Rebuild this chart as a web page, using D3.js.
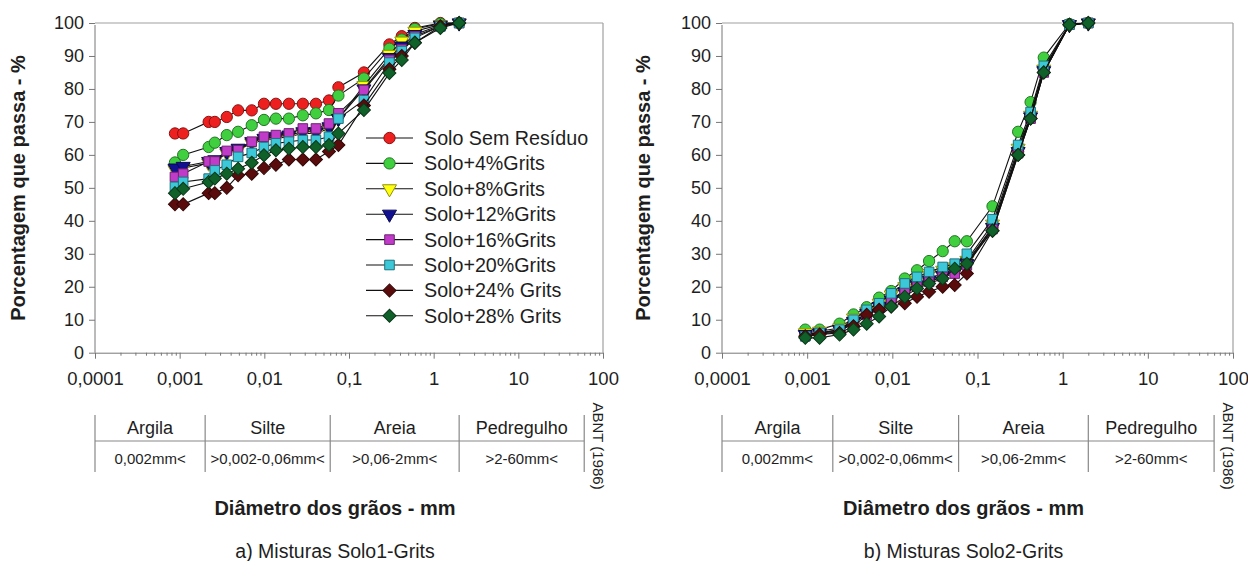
<!DOCTYPE html>
<html>
<head>
<meta charset="utf-8">
<script src="https://cdn.jsdelivr.net/npm/d3@7"></script>
<style>
  body { margin: 0; background: #fff; }
  svg { display: block; font-family: "Liberation Sans", Arial, sans-serif; }
</style>
</head>
<body>
<svg id="chart" width="1248" height="561"></svg>
<script>
// grain diameters (mm) - hydrometer readings then sieves
const diamSolo1 = [0.00088, 0.0011, 0.0022, 0.0026, 0.0036, 0.0049, 0.0071, 0.0099, 0.0137, 0.0195, 0.0285, 0.0407, 0.058,
                   0.075, 0.15, 0.3, 0.42, 0.6, 1.2, 2.0];
const diamSolo2 = [0.00095, 0.0014, 0.0024, 0.0035, 0.005, 0.007, 0.0097, 0.014, 0.0195, 0.027, 0.039, 0.054,
                   0.075, 0.15, 0.3, 0.42, 0.6, 1.2, 2.0];

const seriesNames = ['Solo Sem Resíduo', 'Solo+4%Grits', 'Solo+8%Grits', 'Solo+12%Grits',
                     'Solo+16%Grits', 'Solo+20%Grits', 'Solo+24% Grits', 'Solo+28% Grits'];

// % passing, Solo1 mixes
const solo1Sem = [66.5, 66.5, 70, 70, 71.5, 73.5, 73.5, 75.5, 75.5, 75.5, 75.5, 75.5, 76.5, 80.5, 85, 93.5, 96, 98.5, 100, 100];
const solo1G4  = [57.7, 60, 62.4, 63.7, 66, 67, 69, 70.6, 71, 71, 72, 72.6, 73.6, 78, 83.2, 92.2, 95, 98.2, 99.8, 100];
const solo1G8  = [55.5, 56, 57.5, 58, 60.5, 61.5, 63.5, 64.5, 65, 65.5, 66.5, 66.5, 68, 71, 81, 90.5, 94.5, 97.5, 99.5, 100];
const solo1G12 = [56, 56.5, 58, 58.5, 61, 62, 64, 65, 65.5, 66, 67, 67, 68.5, 71, 80, 89.5, 93, 96.5, 99.3, 100];
const solo1G16 = [53.3, 54.3, 58, 58, 61.2, 61.4, 64, 65.5, 66, 66.5, 68, 68, 69.5, 72.6, 79.7, 88.8, 92, 96, 99, 100];
const solo1G20 = [50.3, 51.8, 52.8, 55.3, 57, 59.4, 60.6, 62.4, 63.5, 64, 64.5, 64.5, 65.5, 71, 76.6, 88, 91.5, 95.5, 99, 100];
const solo1G24 = [45, 45, 48.4, 48.4, 50, 53.8, 54.3, 56, 57, 58.6, 58.6, 58.6, 61, 63, 75, 86, 90, 94, 99, 100];
const solo1G28 = [48.4, 49.7, 51.8, 52.8, 54.3, 55.8, 57.6, 59.9, 61.4, 61.9, 62.4, 62.4, 63, 66.5, 73.6, 84.8, 88.8, 94, 98.5, 100];

// % passing, Solo2 mixes
const solo2Sem = [5.5, 6, 6.5, 9, 12, 14, 16, 19, 21, 22.5, 24, 25, 27.5, 38, 61, 71.5, 86, 99.5, 100];
const solo2G4  = [7, 7, 8.8, 11.6, 13.8, 16.7, 18.7, 22.5, 25, 27.8, 30.8, 33.8, 33.8, 44.4, 67, 76, 89.5, 99.7, 100];
const solo2G8  = [6, 6.5, 7.5, 10.5, 12.5, 15, 17.5, 20, 22, 24, 25, 26, 28, 39, 62, 72, 86, 99.5, 100];
const solo2G12 = [5.5, 6, 7, 9.5, 12, 14, 16, 18.5, 20.5, 22, 23.5, 24.5, 27, 38, 61, 71.5, 85.5, 99.5, 100];
const solo2G16 = [5, 5.5, 6.5, 9, 11.5, 13.5, 15.5, 18, 20, 21.5, 23, 24, 26.5, 37.5, 60.5, 71, 85, 99.5, 100];
const solo2G20 = [5, 6, 7, 10, 13, 15, 18, 21, 23, 24.5, 26, 27, 30, 40.5, 63, 73, 87, 99.5, 100];
const solo2G24 = [5, 5.5, 6, 8, 11.5, 13, 14, 15, 17, 18.5, 20, 20.5, 24, 37, 60, 71, 85, 99.5, 100];
const solo2G28 = [4.5, 4.5, 5.5, 7, 8.8, 11, 14, 17, 19.5, 21, 22.5, 25.5, 27, 37, 60, 71, 85, 99.5, 100];

const xTickVals = [0.0001, 0.001, 0.01, 0.1, 1, 10, 100];
const xTickLabels = ['0,0001', '0,001', '0,01', '0,1', '1', '10', '100'];
const yTickVals = [0, 10, 20, 30, 40, 50, 60, 70, 80, 90, 100];

// ABNT soil classes
const soilClasses = ['Argila', 'Silte', 'Areia', 'Pedregulho'];
const soilRanges = ['0,002mm<', '>0,002-0,06mm<', '>0,06-2mm<', '>2-60mm<'];
const classBounds = [0.0001, 0.002, 0.06, 2, 60];

// styles
const fills = ['#ee1f1f', '#3fcf3f', '#ffff10', '#101090', '#c03cc8', '#3cc8d8', '#5a0c0c', '#10602a'];
const shapes = ['circle', 'circle', 'tri', 'tri', 'square', 'square', 'diamond', 'diamond'];
const textCol = '#1e1e1e';

const svg = d3.select('#chart');

function marker(g, shape, fill, x, y) {
  let sym, rot = 0, size;
  if (shape === 'circle') { sym = d3.symbolCircle; size = 100; }
  else if (shape === 'tri') { sym = d3.symbolTriangle; size = 85; rot = 180; }
  else if (shape === 'square') { sym = d3.symbolSquare; size = 92; }
  else { sym = d3.symbolSquare; size = 85; rot = 45; }
  g.append('path')
    .attr('d', d3.symbol().type(sym).size(size)())
    .attr('transform', `translate(${x},${y}) rotate(${rot})`)
    .attr('fill', fill)
    .attr('stroke', d3.color(fill).darker(1.6))
    .attr('stroke-width', 1);
}

function drawPanel(cfg) {
  const g = svg.append('g');
  const x = d3.scaleLog().domain([0.0001, 100]).range([cfg.x0, cfg.x1]);
  const y = d3.scaleLinear().domain([0, 100]).range([352.7, 23]);

  // frame top / right
  g.append('line').attr('x1', x(0.0001)).attr('x2', x(100)).attr('y1', y(100)).attr('y2', y(100))
    .attr('stroke', '#a0a0a0').attr('stroke-width', 1.2);
  g.append('line').attr('x1', x(100)).attr('x2', x(100)).attr('y1', y(100)).attr('y2', y(0))
    .attr('stroke', '#a0a0a0').attr('stroke-width', 1.2);

  // y axis
  const yAxis = g.append('g')
    .attr('transform', `translate(${x(0.0001)},0)`)
    .call(d3.axisLeft(y).tickValues(yTickVals).tickSize(6).tickPadding(5));
  yAxis.select('.domain').attr('stroke', '#777').attr('d', `M-0,${y(100) + 2}V${y(0)}`);
  yAxis.selectAll('.tick line').attr('stroke', '#777');
  yAxis.selectAll('.tick text').attr('fill', textCol).style('font-size', '18px')
    .style('font-family', '"Liberation Sans", Arial, sans-serif');

  // x axis: minor ticks then labelled decades
  const minor = [];
  for (let e = -4; e < 2; e++) for (let k = 2; k <= 9; k++) minor.push(k * Math.pow(10, e));
  const xMinor = g.append('g')
    .attr('transform', `translate(0,${y(0)})`)
    .call(d3.axisBottom(x).tickValues(minor).tickSize(3).tickFormat(''));
  xMinor.select('.domain').remove();
  xMinor.selectAll('.tick line').attr('stroke', '#777');

  const xAxis = g.append('g')
    .attr('transform', `translate(0,${y(0)})`)
    .call(d3.axisBottom(x).tickValues(xTickVals).tickSize(6).tickSizeOuter(0).tickPadding(13)
      .tickFormat((d, i) => xTickLabels[i]));
  xAxis.select('.domain').attr('stroke', '#777');
  xAxis.selectAll('.tick line').attr('stroke', '#777');
  xAxis.selectAll('.tick text').attr('fill', textCol).style('font-size', '18.5px')
    .style('font-family', '"Liberation Sans", Arial, sans-serif');

  // curves
  cfg.vals.forEach((vals, si) => {
    const pts = vals.map((v, i) => [x(cfg.diam[i]), y(v)]);
    g.append('path')
      .attr('d', d3.line()(pts))
      .attr('fill', 'none').attr('stroke', '#111').attr('stroke-width', 1.1);
    pts.forEach(p => marker(g, shapes[si], fills[si], p[0], p[1]));
  });

  // y title
  g.append('text')
    .attr('transform', `translate(${cfg.titleX},188) rotate(-90)`)
    .attr('text-anchor', 'middle').attr('dominant-baseline', 'central')
    .attr('font-weight', 'bold').attr('font-size', 20).attr('fill', textCol)
    .text('Porcentagem que passa - %');

  // legend
  if (cfg.legend) {
    seriesNames.forEach((name, i) => {
      const ly = 138 + i * 25.4;
      g.append('line').attr('x1', 366).attr('x2', 413).attr('y1', ly).attr('y2', ly)
        .attr('stroke', '#111').attr('stroke-width', 1.1);
      marker(g, shapes[i], fills[i], 389.5, ly);
      g.append('text').attr('x', 424).attr('y', ly).attr('dominant-baseline', 'central')
        .attr('font-size', 19.7).attr('fill', textCol).text(name);
    });
  }

  // classification table
  const tb = g.append('g');
  tb.append('line').attr('x1', x(classBounds[0])).attr('x2', x(classBounds[4]))
    .attr('y1', 441).attr('y2', 441).attr('stroke', '#888').attr('stroke-width', 1.2);
  classBounds.forEach(b => {
    tb.append('line').attr('x1', x(b)).attr('x2', x(b)).attr('y1', 415).attr('y2', 472)
      .attr('stroke', '#888').attr('stroke-width', 1.2);
  });
  soilClasses.forEach((c, i) => {
    const cx = (x(classBounds[i]) + x(classBounds[i + 1])) / 2;
    tb.append('text').attr('x', cx).attr('y', 428).attr('text-anchor', 'middle')
      .attr('dominant-baseline', 'central').attr('font-size', 18).attr('fill', textCol).text(c);
    tb.append('text').attr('x', cx).attr('y', 458).attr('text-anchor', 'middle')
      .attr('dominant-baseline', 'central').attr('font-size', 15).attr('fill', textCol).text(soilRanges[i]);
  });
  tb.append('text')
    .attr('transform', `translate(${x(100) - 5},446) rotate(90)`)
    .attr('text-anchor', 'middle').attr('dominant-baseline', 'central')
    .attr('font-size', 15).attr('fill', textCol).text('ABNT (1986)');

  // x title + caption
  const mid = (cfg.x0 + cfg.x1) / 2 - 14;
  g.append('text').attr('x', mid).attr('y', 508).attr('text-anchor', 'middle')
    .attr('dominant-baseline', 'central').attr('font-weight', 'bold').attr('font-size', 20)
    .attr('fill', textCol).text('Diâmetro dos grãos - mm');
  g.append('text').attr('x', mid).attr('y', 551).attr('text-anchor', 'middle')
    .attr('dominant-baseline', 'central').attr('font-size', 19.5)
    .attr('fill', textCol).text(cfg.caption);
}

drawPanel({
  x0: 95, x1: 603, titleX: 18, legend: true,
  diam: diamSolo1,
  vals: [solo1Sem, solo1G4, solo1G8, solo1G12, solo1G16, solo1G20, solo1G24, solo1G28],
  caption: 'a) Misturas Solo1-Grits'
});
drawPanel({
  x0: 722, x1: 1233, titleX: 643, legend: false,
  diam: diamSolo2,
  vals: [solo2Sem, solo2G4, solo2G8, solo2G12, solo2G16, solo2G20, solo2G24, solo2G28],
  caption: 'b) Misturas Solo2-Grits'
});
</script>
</body>
</html>
